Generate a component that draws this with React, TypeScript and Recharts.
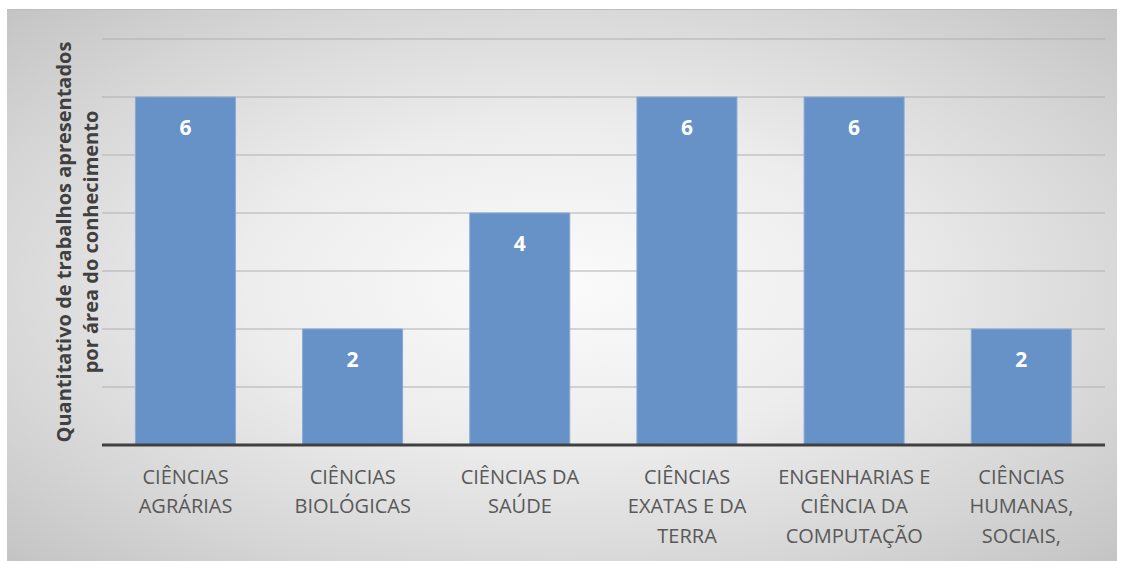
import React from "react";
import { BarChart, Bar, XAxis, YAxis, CartesianGrid, LabelList } from "recharts";

const categories = [
  "CIÊNCIAS AGRÁRIAS",
  "CIÊNCIAS BIOLÓGICAS",
  "CIÊNCIAS DA SAÚDE",
  "CIÊNCIAS EXATAS E DA TERRA",
  "ENGENHARIAS E CIÊNCIA DA COMPUTAÇÃO",
  "CIÊNCIAS HUMANAS, SOCIAIS,",
];
const values = [6, 2, 4, 6, 6, 2];
const tickLines = [
  ["CIÊNCIAS", "AGRÁRIAS"],
  ["CIÊNCIAS", "BIOLÓGICAS"],
  ["CIÊNCIAS DA", "SAÚDE"],
  ["CIÊNCIAS", "EXATAS E DA", "TERRA"],
  ["ENGENHARIAS E", "CIÊNCIA DA", "COMPUTAÇÃO"],
  ["CIÊNCIAS", "HUMANAS,", "SOCIAIS,"],
];
const yTitleLines = ["Quantitativo de trabalhos apresentados", "por área do conhecimento"];
const yTicks = [0, 1, 2, 3, 4, 5, 6, 7];

const data = categories.map((c, i) => ({ name: c, value: values[i] }));

const FONT = "'Open Sans', Lato, sans-serif";

const CatTick = (props: any) => {
  const { x, y, index } = props;
  const lines = tickLines[index] || [];
  return (
    <g>
      {lines.map((l, i) => (
        <text
          key={i}
          x={x}
          y={y + 23 + i * 29.5}
          textAnchor="middle"
          dominantBaseline="central"
          fill="#595959"
          fontSize={20}
          fontFamily={FONT}
        >
          {l}
        </text>
      ))}
    </g>
  );
};

const YTitle = () => {
  const cy = 232;
  const xs = [56, 83];
  return (
    <g>
      {yTitleLines.map((l, i) => (
        <text
          key={i}
          x={xs[i]}
          y={cy}
          transform={`rotate(-90, ${xs[i]}, ${cy})`}
          textAnchor="middle"
          dominantBaseline="central"
          fill="#404040"
          fontSize={20}
          fontWeight="bold"
          fontFamily={FONT}
        >
          {l}
        </text>
      ))}
    </g>
  );
};

const ValueLabel = (props: any) => {
  const { x, y, width, value } = props;
  return (
    <text
      x={x + width / 2}
      y={y + 30}
      textAnchor="middle"
      dominantBaseline="central"
      fill="#ffffff"
      fontSize={21}
      fontWeight="bold"
      fontFamily={FONT}
    >
      {value}
    </text>
  );
};

const NoTick = () => <g />;

export default function App() {
  return (
    <div
      style={{
        position: "absolute",
        left: 7,
        top: 9,
        width: 1110,
        height: 552,
        borderTop: "1px solid #bdbdbd",
        background:
          "radial-gradient(ellipse at 50% 50%, #fbfbfb 0%, #ededed 40%, #d6d6d6 75%, #c4c4c4 100%)",
        boxSizing: "border-box",
      }}
    >
      <BarChart
        width={1110}
        height={551}
        data={data}
        margin={{ top: 29, right: 12, left: 0, bottom: 0 }}
        barCategoryGap="20%"
      >
        <CartesianGrid vertical={false} stroke="#b0b0b0" strokeWidth={1} />
        <YAxis
          domain={[0, 7]}
          ticks={yTicks}
          width={95}
          tick={NoTick}
          axisLine={false}
          tickLine={false}
          label={{ content: YTitle }}
        />
        <XAxis
          dataKey="name"
          interval={0}
          height={116}
          tick={CatTick}
          tickLine={false}
          axisLine={{ stroke: "#404040", strokeWidth: 3 }}
        />
        <Bar
          dataKey="value"
          fill="#6792C8"
          stroke="#86A9D6"
          strokeWidth={1}
          isAnimationActive={false}
        >
          <LabelList dataKey="value" content={ValueLabel} />
        </Bar>
      </BarChart>
    </div>
  );
}
